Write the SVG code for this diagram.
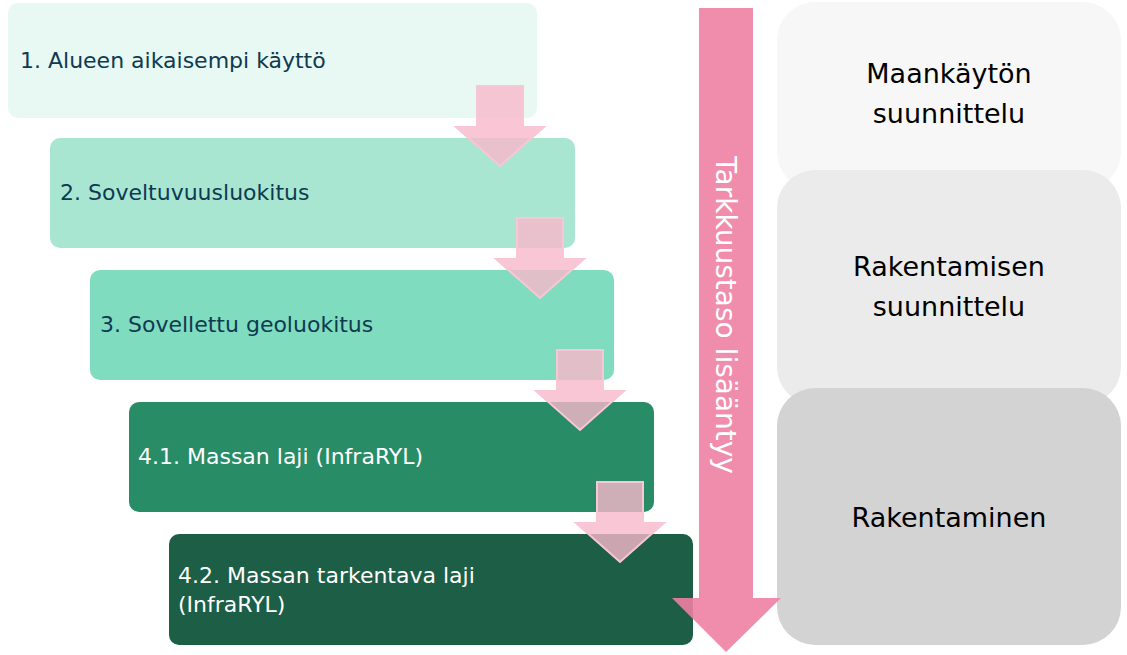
<svg xmlns="http://www.w3.org/2000/svg" width="1127" height="655" viewBox="0 0 1127 655">
<style>
text{font-family:"DejaVu Sans",Verdana,sans-serif}
.l{font-size:22px}
.r{font-size:27px;fill:#000;text-anchor:middle}
.sa{fill:#F7B8CC;fill-opacity:0.8;stroke:#F9C6D6;stroke-width:2}
</style>
<rect width="1127" height="655" fill="#fff"/>
<g id="right-boxes">
<g id="r1"><rect x="777" y="2" width="344" height="188" rx="38" fill="#F7F7F7"/><text class="r" x="949" y="83">Maankäytön</text><text class="r" x="949" y="123">suunnittelu</text></g>
<g id="r2"><rect x="777" y="170" width="344" height="235" rx="38" fill="#EBEBEB"/><text class="r" x="949" y="276">Rakentamisen</text><text class="r" x="949" y="316">suunnittelu</text></g>
<g id="r3"><rect x="777" y="388" width="344" height="257" rx="38" fill="#D3D3D3"/><text class="r" x="949" y="527">Rakentaminen</text></g>
</g>
<g id="b1"><rect x="8" y="3" width="529" height="115" rx="10" fill="#E8F8F2"/><text class="l" x="20" y="68" fill="#0E3A52">1. Alueen aikaisempi käyttö</text></g>
<g id="b2"><rect x="50" y="138" width="525" height="110" rx="10" fill="#A8E6D2"/><text class="l" x="60" y="200" fill="#0E3A52">2. Soveltuvuusluokitus</text></g>
<g id="b3"><rect x="90" y="270" width="524" height="110" rx="10" fill="#80DCBE"/><text class="l" x="100" y="332" fill="#0E3A52">3. Sovellettu geoluokitus</text></g>
<g id="b4"><rect x="129" y="402" width="525" height="110" rx="10" fill="#288C66"/><text class="l" x="138" y="464" fill="#fff">4.1. Massan laji (InfraRYL)</text></g>
<g id="b5"><rect x="169" y="534" width="524" height="111" rx="10" fill="#1C5E46"/><text class="l" x="178" y="583" fill="#fff">4.2. Massan tarkentava laji</text><text class="l" x="178" y="612" fill="#fff">(InfraRYL)</text></g>
<g id="connectors">
<path class="sa" d="M477 86H523V127H544L500 166L456 127H477Z"/>
<path class="sa" d="M517 218H563V259H584L540 298L496 259H517Z"/>
<path class="sa" d="M557 350H603V391H624L580 430L536 391H557Z"/>
<path class="sa" d="M597 482H643V523H664L620 562L576 523H597Z"/>
<path d="M699 8H753V598H781L726 652L672 598H699Z" fill="#EE7FA3" fill-opacity="0.9"/>
<text x="0" y="0" transform="translate(716,315) rotate(90)" text-anchor="middle" font-size="28" fill="#fff">Tarkkuustaso lisääntyy</text>
</g>
</svg>
